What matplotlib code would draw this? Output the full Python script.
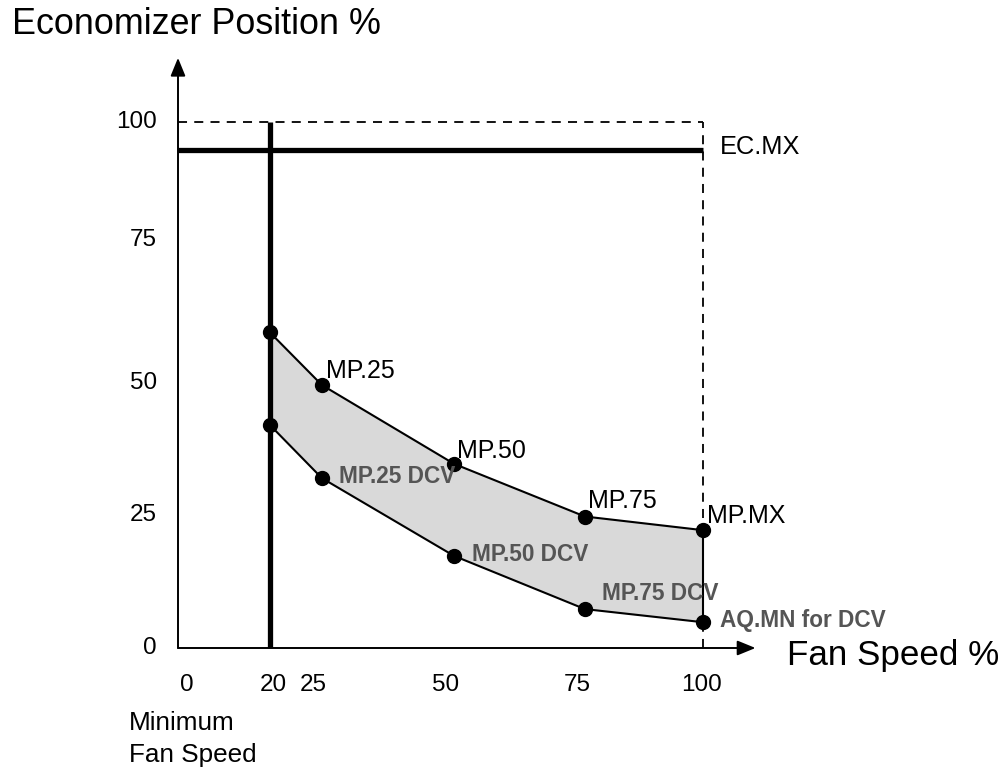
import matplotlib.pyplot as plt

plt.rcParams['font.family'] = ['Liberation Sans', 'DejaVu Sans']

# fan speed positions of the set points (as drawn)
fan = [17.5, 27.4, 52.6, 77.5, 100]
mp_upper = [60.0, 50.0, 35.0, 25.0, 22.4]     # MP.xx
mp_lower = [42.4, 32.3, 17.5, 7.4, 4.9]       # MP.xx DCV

upper_names = [None, 'MP.25', 'MP.50', 'MP.75', 'MP.MX']
lower_names = [None, 'MP.25 DCV', 'MP.50 DCV', 'MP.75 DCV', 'AQ.MN for DCV']

ec_mx = 94.7
min_fan = 17.5

# tick labels and where they sit
xtick_pos = [1.7, 18.1, 25.7, 50.9, 76.0, 99.8]
xtick_lab = ['0', '20', '25', '50', '75', '100']
ytick_pos = [0, 25.3, 50.4, 77.6, 100]
ytick_lab = ['0', '25', '50', '75', '100']

fig = plt.figure(figsize=(10.06, 7.68), dpi=100)
W, H = 1006, 768
x0, y0 = 178, 648          # pixel of origin
sx, sy = 5.25, 5.26        # pixels per unit
xmax, ymax = 110, 112.2
ax = fig.add_axes([x0 / W, (H - y0) / H, xmax * sx / W, ymax * sy / H])
ax.set_xlim(0, xmax)
ax.set_ylim(0, ymax)
ax.axis('off')

# axes with arrows
arrow = dict(arrowstyle='-|>,head_length=1.1,head_width=0.45', color='black', lw=1.4,
             shrinkA=0, shrinkB=0)
ax.annotate('', xy=(xmax, 0), xytext=(0, 0), arrowprops=arrow, annotation_clip=False)
ax.annotate('', xy=(0, ymax), xytext=(0, 0), arrowprops=arrow, annotation_clip=False)

# dashed 100% box
ax.plot([0, 100], [100, 100], color='black', lw=1.3, ls=(0, (5, 4)), clip_on=False)
ax.plot([100, 100], [0, 100], color='black', lw=1.3, ls=(0, (5, 4)), clip_on=False)

# shaded band
ax.fill_between(fan, mp_lower, mp_upper, color='#d9d9d9', lw=0, zorder=1)
ax.plot(fan, mp_upper, color='black', lw=1.5, zorder=2)
ax.plot(fan, mp_lower, color='black', lw=1.5, zorder=2)
ax.plot([fan[-1], fan[-1]], [mp_lower[-1], mp_upper[-1]], color='black', lw=1.5, zorder=2)

# EC.MX and minimum fan speed
ax.plot([0, 100], [ec_mx, ec_mx], color='black', lw=3.8, solid_capstyle='butt', zorder=3)
ax.plot([min_fan, min_fan], [0, 100], color='black', lw=3.8, solid_capstyle='butt', zorder=3)

ax.plot(fan, mp_upper, 'o', color='black', ms=10, zorder=4)
ax.plot(fan, mp_lower, 'o', color='black', ms=10, zorder=4)

# point labels
up_off = [None, (4, 7), (3, 6), (3, 8), (4, 7)]
lo_off = [None, (17, 2), (18, 1), (17, 16), (17, 2)]
for i in range(1, len(fan)):
    ax.annotate(upper_names[i], (fan[i], mp_upper[i]), xytext=up_off[i],
                textcoords='offset pixels', fontsize=18, va='baseline', ha='left',
                annotation_clip=False)
    ax.annotate(lower_names[i], (fan[i], mp_lower[i]), xytext=lo_off[i],
                textcoords='offset pixels', fontsize=16.3, fontweight='bold',
                color='#555555', va='center', ha='left', annotation_clip=False, zorder=5)

ax.annotate('EC.MX', (100, ec_mx), xytext=(17, 3), textcoords='offset pixels',
            fontsize=18.3, va='center', ha='left', annotation_clip=False)

# tick labels
for p, t in zip(xtick_pos, xtick_lab):
    ax.text(p, -7.0, t, fontsize=17.5, ha='center', va='center', clip_on=False)
for p, t in zip(ytick_pos, ytick_lab):
    ax.text(-4.0, p, t, fontsize=17.5, ha='right', va='center', clip_on=False)

# axis titles
fig.text(12 / W, 1 - 25 / H, 'Economizer Position %', fontsize=25.8, ha='left', va='center')
fig.text(787 / W, 1 - 655 / H, 'Fan Speed %', fontsize=25.2, ha='left', va='center')
fig.text(129 / W, 1 - 723 / H, 'Minimum', fontsize=18.8, ha='left', va='center')
fig.text(129 / W, 1 - 755 / H, 'Fan Speed', fontsize=18.8, ha='left', va='center')

fig.savefig('out.png', dpi=100)
